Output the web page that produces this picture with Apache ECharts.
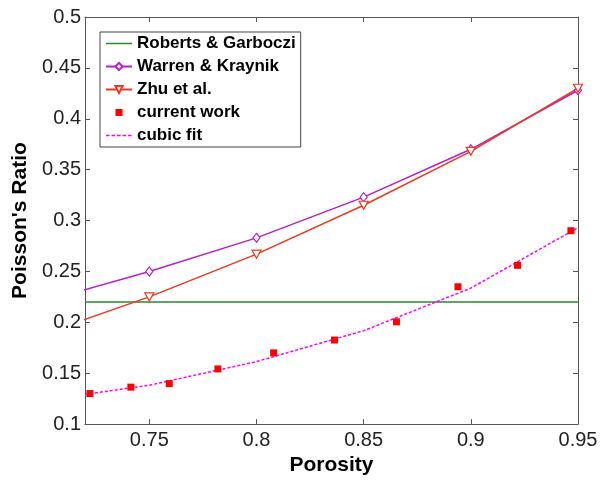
<!DOCTYPE html>
<html><head><meta charset="utf-8">
<script src="https://cdn.jsdelivr.net/npm/echarts@6/dist/echarts.min.js"></script>
<style>html,body{margin:0;padding:0;background:#fff}#c{width:609px;height:481px}</style>
</head><body><div id="c"></div>
<script>
var porosityTicks = [0.75, 0.8, 0.85, 0.9, 0.95];
var robertsX = [0.72, 0.95];
var robertsY = [0.22, 0.22];
var modelX = [0.70, 0.75, 0.80, 0.85, 0.90, 0.95];
var warrenY = [0.220, 0.250, 0.283, 0.323, 0.370, 0.428];
var zhuY = [0.188, 0.225, 0.267, 0.315, 0.368, 0.430];
var workX = [0.7223, 0.7414, 0.7593, 0.782, 0.808, 0.8364, 0.8653, 0.894, 0.9218, 0.9467];
var workY = [0.130, 0.1363, 0.1398, 0.1542, 0.170, 0.1826, 0.2005, 0.2349, 0.256, 0.290];
var fitX = [0.72, 0.75, 0.80, 0.85, 0.90, 0.95];
var fitY = [0.1292, 0.1382, 0.1614, 0.1918, 0.2336, 0.293];

function pairs(xs, ys){ return xs.map(function(x,i){return [x, ys[i]];}); }

var font = 'Liberation Sans, Arial, sans-serif';
var axisCol = '#555';
var iconLine = 'path://M0,0M26,9M0,3.75h26v1.5h-26z';
var iconDash = 'path://M0,0M26,9M0,3.75h3.6v1.5h-3.6zM5.5,3.75h3.6v1.5h-3.6zM11,3.75h3.6v1.5h-3.6zM16.5,3.75h3.6v1.5h-3.6zM22,3.75h3.6v1.5h-3.6z';
var iconSquare = 'path://M0,0M26,9M9.5,1h7v7h-7z';

var chart = echarts.init(document.getElementById('c'));
chart.setOption({
  animation: false,
  grid: {left: 85, right: 31, top: 17, bottom: 49, containLabel: false},
  legend: {
    orient: 'vertical', left: 100, top: 32,
    backgroundColor: '#fff', borderColor: '#444', borderWidth: 1,
    padding: [3, 5, 3, 5], itemGap: 6, itemWidth: 26, itemHeight: 9,
    textStyle: {fontFamily: font, fontWeight: 'bold', fontSize: 17, color: '#000'},
    data: [
      {name: 'Roberts & Garboczi', icon: iconLine},
      {name: 'Warren & Kraynik'},
      {name: 'Zhu et al.'},
      {name: 'current work', icon: iconSquare},
      {name: 'cubic fit', icon: iconDash}
    ]
  },
  xAxis: [{
    type: 'value', min: 0.72, max: 0.95,
    name: 'Porosity', nameLocation: 'middle', nameGap: 25,
    nameTextStyle: {fontFamily: font, fontWeight: 'bold', fontSize: 21, color: '#000'},
    axisLine: {lineStyle: {color: axisCol}},
    axisTick: {inside: true, length: 5, customValues: porosityTicks, lineStyle: {color: axisCol}},
    axisLabel: {customValues: porosityTicks, fontFamily: font, fontSize: 20, color: '#222', margin: 6,
      formatter: function(v){ return String(+v.toFixed(2)); }},
    splitLine: {show: false}
  }, {
    type: 'value', min: 0.72, max: 0.95, position: 'top',
    axisLine: {lineStyle: {color: axisCol}},
    axisTick: {inside: true, length: 5, customValues: porosityTicks, lineStyle: {color: axisCol}},
    axisLabel: {show: false}, splitLine: {show: false}
  }],
  yAxis: [{
    type: 'value', min: 0.1, max: 0.5, interval: 0.05,
    name: "Poisson's Ratio", nameLocation: 'middle', nameGap: 49,
    nameTextStyle: {fontFamily: font, fontWeight: 'bold', fontSize: 21, color: '#000'},
    axisLine: {show: true, lineStyle: {color: axisCol}},
    axisTick: {show: true, inside: true, length: 5, lineStyle: {color: axisCol}},
    axisLabel: {fontFamily: font, fontSize: 20, color: '#222', margin: 4,
      formatter: function(v){ return String(+v.toFixed(2)); }},
    splitLine: {show: false}
  }, {
    type: 'value', min: 0.1, max: 0.5, interval: 0.05, position: 'right',
    axisLine: {show: true, lineStyle: {color: axisCol}},
    axisTick: {show: true, inside: true, length: 5, lineStyle: {color: axisCol}},
    axisLabel: {show: false}, splitLine: {show: false}
  }],
  series: [{
    name: 'Roberts & Garboczi', type: 'line', data: pairs(robertsX, robertsY),
    symbol: 'none', color: '#2a8a2a', itemStyle: {color: '#2a8a2a'},
    lineStyle: {width: 1.5, color: '#2a8a2a'}, clip: true
  }, {
    name: 'Warren & Kraynik', type: 'line', data: pairs(modelX, warrenY),
    symbol: 'diamond', symbolSize: [7, 9], showAllSymbol: true, color: '#b520c5',
    itemStyle: {color: '#fff', borderColor: '#b520c5', borderWidth: 1.2},
    lineStyle: {width: 1.5, color: '#b520c5'}, clip: true
  }, {
    name: 'Zhu et al.', type: 'line', data: pairs(modelX, zhuY),
    symbol: 'triangle', symbolRotate: 180, symbolSize: [9, 8], color: '#ea3a1e',
    itemStyle: {color: '#fff', borderColor: '#ea3a1e', borderWidth: 1.2},
    lineStyle: {width: 1.5, color: '#ea3a1e'}, clip: true
  }, {
    name: 'current work', type: 'scatter', data: pairs(workX, workY),
    symbol: 'rect', symbolSize: 7, itemStyle: {color: '#ff0000', opacity: 1}, z: 5
  }, {
    name: 'cubic fit', type: 'line', data: pairs(fitX, fitY),
    symbol: 'none', color: '#ff00ff', itemStyle: {color: '#ff00ff'},
    lineStyle: {width: 1.5, color: '#ff00ff', type: [3, 2]}, clip: true
  }]
});
</script></body></html>
